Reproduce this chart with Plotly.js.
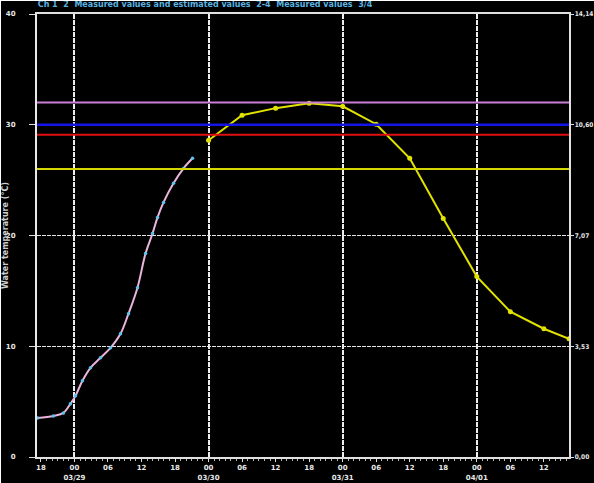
<!DOCTYPE html>
<html><head><meta charset="utf-8">
<script src="https://cdn.plot.ly/plotly-3.0.1.min.js"></script>
<style>html,body{margin:0;padding:0;background:#fff}#c{position:absolute;left:1px;top:1px;width:593px;height:482px}</style>
</head><body><div id="c"></div>
<script>
// observed series (hours from 03/29 00:00)
const obsHours  = [-6.6,-3.76,-1.97,-0.72,0.18,1.43,2.87,4.66,6.45,8.24,9.67,11.28,12.72,13.97,14.87,15.94,17.73,19.52,21.13];
const obsValues = [3.53,3.71,3.98,4.80,5.52,6.88,8.05,8.96,9.86,11.13,12.94,15.29,18.37,20.18,21.63,22.99,24.71,26.06,26.97];
// forecast series
const fcHours  = [24,30,36,42,48,54,60,66,72,78,84,88.5];
const fcValues = [28.6,30.86,31.5,31.95,31.67,30.05,26.97,21.54,16.29,13.12,11.58,10.68];
// reference levels
const refLevels = [32.0,30.0,29.1,26.0];
// axis ticks
const xTickVals = [-6,0,6,12,18,24,30,36,42,48,54,60,66,72,78,84];
const xTickText = ["18","00<br>03/29","06","12","18","00<br>03/30","06","12","18","00<br>03/31","06","12","18","00<br>04/01","06","12"];
const dayLines = [0,24,48,72];
const yTickVals = [0,10,20,30,40];
const yTickText = ["0","10","20","30","40"];
const y2TickVals = [0,3.535,7.07,10.605,14.14];
const y2TickText = ["0,00","3,53","7,07","10,60","14,14"];

const refColors = ["#c77fd6","#1414e6","#e01010","#d6d600"];
const refWidths = [2,2.5,2,2];
const XR=[-6.7,88.5];
const fnt={family:"DejaVu Sans",size:7,color:"#e8e8e8",weight:"bold"};

const traces=[
 {x:obsHours,y:obsValues,type:"scatter",mode:"lines+markers",
  line:{color:"#eab4dc",width:2,shape:"spline"},marker:{color:"#5cc4ea",size:3.5},hoverinfo:"skip"},
 {x:fcHours,y:fcValues,type:"scatter",mode:"lines+markers",
  line:{color:"#e2e200",width:2},marker:{color:"#e2e200",size:5},hoverinfo:"skip"},
 {x:[XR[0]],y:[0],xaxis:"x2",yaxis:"y2",type:"scatter",mode:"markers",marker:{opacity:0},hoverinfo:"skip"}
];
const shapes=refLevels.map((v,i)=>({type:"line",xref:"paper",x0:0,x1:1,yref:"y",y0:v,y1:v,
  line:{color:refColors[i],width:refWidths[i]},layer:"above"}));

const layout={
 width:593,height:482,
 paper_bgcolor:"#000",plot_bgcolor:"#000",
 margin:{l:36,r:25,t:13,b:26},
 showlegend:false,
 font:fnt,
 title:{text:"Ch 1  2  Measured values and estimated values  2-4  Measured values  3/4",
   font:{family:"DejaVu Sans",size:8,color:"#5ab4e0",weight:"bold"},x:0.062,xanchor:"left",y:0.999,yanchor:"top"},
 xaxis:{range:XR,tickvals:xTickVals,ticktext:xTickText,showgrid:false,zeroline:false,
   showline:true,linecolor:"#e0e0e0",linewidth:2,mirror:true,ticks:"outside",ticklen:3,tickcolor:"#e0e0e0",
   minor:{dtick:1,ticklen:2,tickcolor:"#bbb",showgrid:false},ticklabelstandoff:0,
   tickfont:fnt},
 xaxis2:{range:XR,overlaying:"x",tickvals:dayLines,showticklabels:false,ticks:"",showgrid:true,
   gridcolor:"#eeeeee",gridwidth:2,griddash:"5px,1px",zeroline:false,showline:false},
 yaxis:{range:[0,40],tickvals:yTickVals,ticktext:yTickText,showgrid:true,gridcolor:"#e6e6e6",gridwidth:1.5,
   griddash:"4px,1px",zeroline:false,showline:true,linecolor:"#e8e8e8",linewidth:2,ticks:"outside",ticklen:6,
   tickcolor:"#e0e0e0",ticklabelstandoff:12,tickfont:fnt,
   title:{text:"Water temperature (°C)",font:{family:"DejaVu Sans",size:8,color:"#cfcfcf"},standoff:4}},
 yaxis2:{range:[0,14.14],overlaying:"y",side:"right",tickvals:y2TickVals,ticktext:y2TickText,showgrid:false,
   zeroline:false,showline:true,linecolor:"#e0e0e0",linewidth:1.5,ticks:"outside",ticklen:3,tickcolor:"#e0e0e0",
   ticklabelstandoff:0,tickfont:{family:"DejaVu Sans Condensed",size:6.5,color:"#e8e8e8",weight:"bold"}},
 shapes:shapes
};
Plotly.newPlot("c",traces,layout,{staticPlot:true,displayModeBar:false});
</script></body></html>
